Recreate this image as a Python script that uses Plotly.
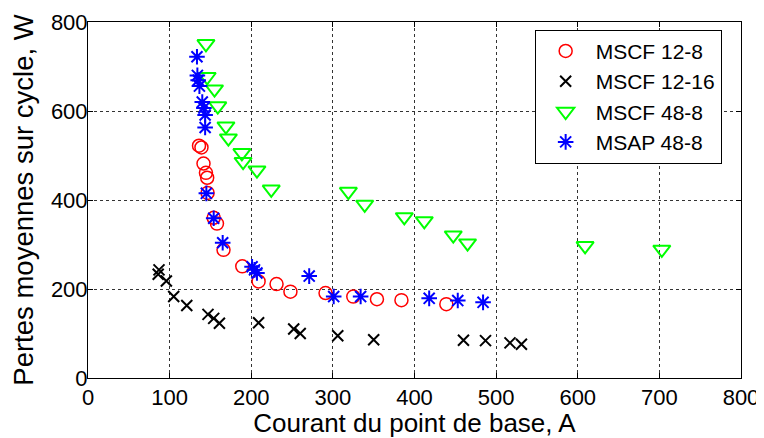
import plotly.graph_objects as go

# MSCF 12-8 (red circles)
mscf_12_8_x = [136, 139, 141.5, 144.5, 146, 146.5, 154, 158, 166, 189, 209, 231, 248, 291, 325, 354, 384, 439]
mscf_12_8_y = [522, 518, 482, 461, 450, 416, 360, 347, 288, 251, 217, 211, 194, 191, 183, 177, 175, 166]

# MSCF 12-16 (black crosses)
mscf_12_16_x = [87, 86, 96, 105, 121, 147, 154, 161, 209, 252, 260, 306, 350, 460, 487, 517, 531]
mscf_12_16_y = [243, 233, 218, 183, 163, 143, 134, 123, 124, 110, 100, 95, 86, 85, 84, 79, 76]

# MSCF 48-8 (green triangles)
mscf_48_8_x = [144.5, 146, 155, 159, 169, 172, 188.5, 190, 207, 224.5, 319, 339, 387.5, 412, 447.5, 465, 609, 703]
mscf_48_8_y = [751, 677, 649, 611, 566, 539, 506, 486, 467, 424, 419, 390, 362, 353, 321, 303, 297, 289]

# MSAP 48-8 (blue stars)
msap_48_8_x = [133.5, 134, 135, 136.5, 140, 142, 143.5, 143.5, 145, 154, 165, 201, 204, 207, 271, 301, 334, 418, 453, 484]
msap_48_8_y = [722, 680, 669, 656, 620, 607, 591, 563, 415, 359, 304, 250, 243, 236, 229, 183, 183, 179, 174, 170]

x_ticks = [0, 100, 200, 300, 400, 500, 600, 700, 800]
y_ticks = [0, 200, 400, 600, 800]

FONT = "Liberation Sans, Arial, sans-serif"

fig = go.Figure()
fig.add_trace(go.Scatter(x=mscf_12_8_x, y=mscf_12_8_y, mode="markers", name="MSCF 12-8",
                         marker=dict(symbol="circle-open", size=13, color="#ff0000", line=dict(width=1.5, color="#ff0000"))))
fig.add_trace(go.Scatter(x=mscf_12_16_x, y=mscf_12_16_y, mode="markers", name="MSCF 12-16",
                         marker=dict(symbol="x-thin-open", size=11, color="#000000", line=dict(width=2, color="#000000"))))
fig.add_trace(go.Scatter(x=mscf_48_8_x, y=mscf_48_8_y, mode="markers", name="MSCF 48-8",
                         marker=dict(symbol="triangle-down-open", size=15, color="#00ff00", line=dict(width=2, color="#00ff00"))))
fig.add_trace(go.Scatter(x=msap_48_8_x, y=msap_48_8_y, mode="markers", name="MSAP 48-8",
                         marker=dict(symbol="asterisk-open", size=13, color="#0000ff", line=dict(width=2, color="#0000ff"))))

axis_common = dict(showline=True, linecolor="black", linewidth=1, mirror="ticks",
                   ticks="inside", ticklen=5, tickcolor="black", automargin=False,
                   showgrid=True, gridcolor="#333333", griddash="dot", gridwidth=1,
                   zeroline=False, tickfont=dict(family=FONT, size=22, color="black"))

fig.update_xaxes(range=[0, 800], tickvals=x_ticks, ticktext=[str(v) for v in x_ticks],
                 title=dict(text="Courant du point de base, A", font=dict(family=FONT, size=26, color="black"), standoff=3),
                 **axis_common)
fig.update_yaxes(range=[0, 800], tickvals=y_ticks, ticktext=[str(v) for v in y_ticks],
                 ticklabelstandoff=-5,
                 title=dict(text="Pertes moyennes sur cycle, W", font=dict(family=FONT, size=27.5, color="black"), standoff=10),
                 **axis_common)

# The page body adds an 8px margin, so the figure is 8px smaller and margins compensate.
fig.update_layout(
    width=756, height=430,
    margin=dict(l=80, r=23, t=14, b=60),
    paper_bgcolor="white", plot_bgcolor="white",
    font=dict(family=FONT, color="black"),
    showlegend=True,
    legend=dict(x=0.684, y=0.978, xanchor="left", yanchor="top",
                bgcolor="white", bordercolor="black", borderwidth=1,
                font=dict(family=FONT, size=21, color="black"),
                itemwidth=50, tracegroupgap=0),
)

fig.write_html("out.html")
